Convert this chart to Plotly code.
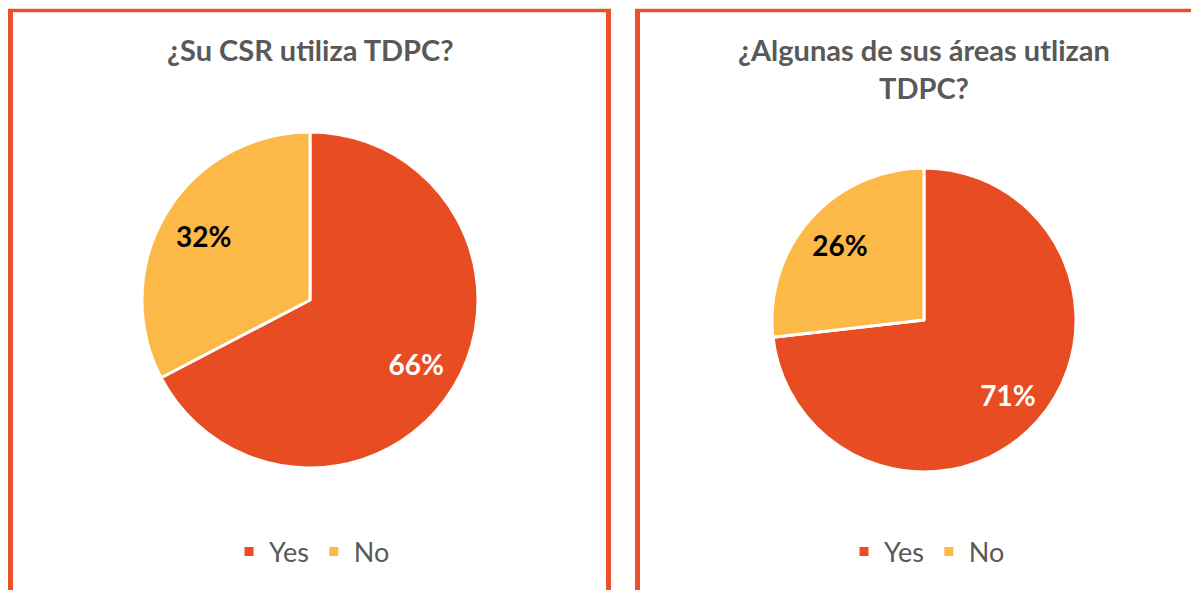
import plotly.graph_objects as go

# Page is 1199x590; the browser body keeps an 8px margin, so the figure is 8px smaller
OFF = 8
W, H = 1199 - OFF, 590 - OFF

labels = ["Yes", "No"]
left_values = [66, 32]
right_values = [71, 26]
left_title = "¿Su CSR utiliza TDPC?"
right_title_lines = ["¿Algunas de sus áreas utlizan", "TDPC?"]

YES_COLOR = "#E84C22"
NO_COLOR = "#FDB948"
BORDER = "#E9512A"
GRAY = "#595959"
FONT = "Lato"


def fx(px):
    return (px - OFF) / W


def fy(py):
    return 1 - (py - OFF) / H


def dom(cx, cy, r):
    return dict(x=[fx(cx - r), fx(cx + r)], y=[fy(cy + r), fy(cy - r)])


fig = go.Figure()

panels = [
    (left_values, dom(310, 300, 168), "legend", ""),
    (right_values, dom(924, 320, 152), "legend2", "\u200b"),
]

for vals, d, lg, suffix in panels:
    lab = [l + suffix for l in labels]
    # filled pie
    fig.add_trace(go.Pie(
        labels=lab,
        values=vals,
        textinfo="none",
        marker=dict(colors=[YES_COLOR, NO_COLOR], line=dict(color="white", width=3)),
        sort=False,
        direction="clockwise",
        rotation=0,
        domain=d,
        legend=lg,
        hoverinfo="label+value",
    ))
    # transparent ring that only carries the data labels (places them at ~3/4 radius)
    fig.add_trace(go.Pie(
        labels=lab,
        values=vals,
        hole=0.48,
        text=[f"{v}%" for v in vals],
        texttemplate="%{text}",
        textposition="inside",
        insidetextorientation="horizontal",
        textfont=dict(family=FONT, size=28, color=["white", "black"], weight="bold"),
        marker=dict(colors=["rgba(0,0,0,0)", "rgba(0,0,0,0)"], line=dict(width=0)),
        sort=False,
        direction="clockwise",
        rotation=0,
        domain=d,
        showlegend=False,
        hoverinfo="skip",
    ))

legend_common = dict(
    orientation="h",
    xanchor="center",
    yanchor="middle",
    font=dict(family=FONT, size=27, color=GRAY),
    bgcolor="rgba(0,0,0,0)",
    itemwidth=30,
)

title_font = dict(family=FONT, size=29, color=GRAY, weight="bold")
annotations = [
    dict(text=left_title, x=fx(310), y=fy(50), xref="paper", yref="paper",
         showarrow=False, xanchor="center", yanchor="middle", font=title_font),
]
for i, line in enumerate(right_title_lines):
    annotations.append(dict(text=line, x=fx(924), y=fy(50 + 38 * i), xref="paper", yref="paper",
                            showarrow=False, xanchor="center", yanchor="middle", font=title_font))

shapes = []
for x0, x1 in [(10.5, 608.5), (637.5, 1220)]:
    shapes.append(dict(type="line", xref="paper", yref="paper",
                       x0=fx(x0 - 2.5), x1=fx(x1 + 2.5), y0=fy(10.5), y1=fy(10.5),
                       line=dict(color=BORDER, width=3.5), layer="below"))
    for x in (x0, x1):
        shapes.append(dict(type="line", xref="paper", yref="paper",
                           x0=fx(x), x1=fx(x), y0=fy(9), y1=-0.1,
                           line=dict(color=BORDER, width=5), layer="below"))

fig.update_layout(
    width=W,
    height=H,
    margin=dict(l=0, r=0, t=0, b=0),
    paper_bgcolor="white",
    plot_bgcolor="white",
    showlegend=True,
    legend=dict(x=fx(312), y=fy(552), **legend_common),
    legend2=dict(x=fx(927), y=fy(552), **legend_common),
    annotations=annotations,
    shapes=shapes,
)

fig.write_html("out.html")
